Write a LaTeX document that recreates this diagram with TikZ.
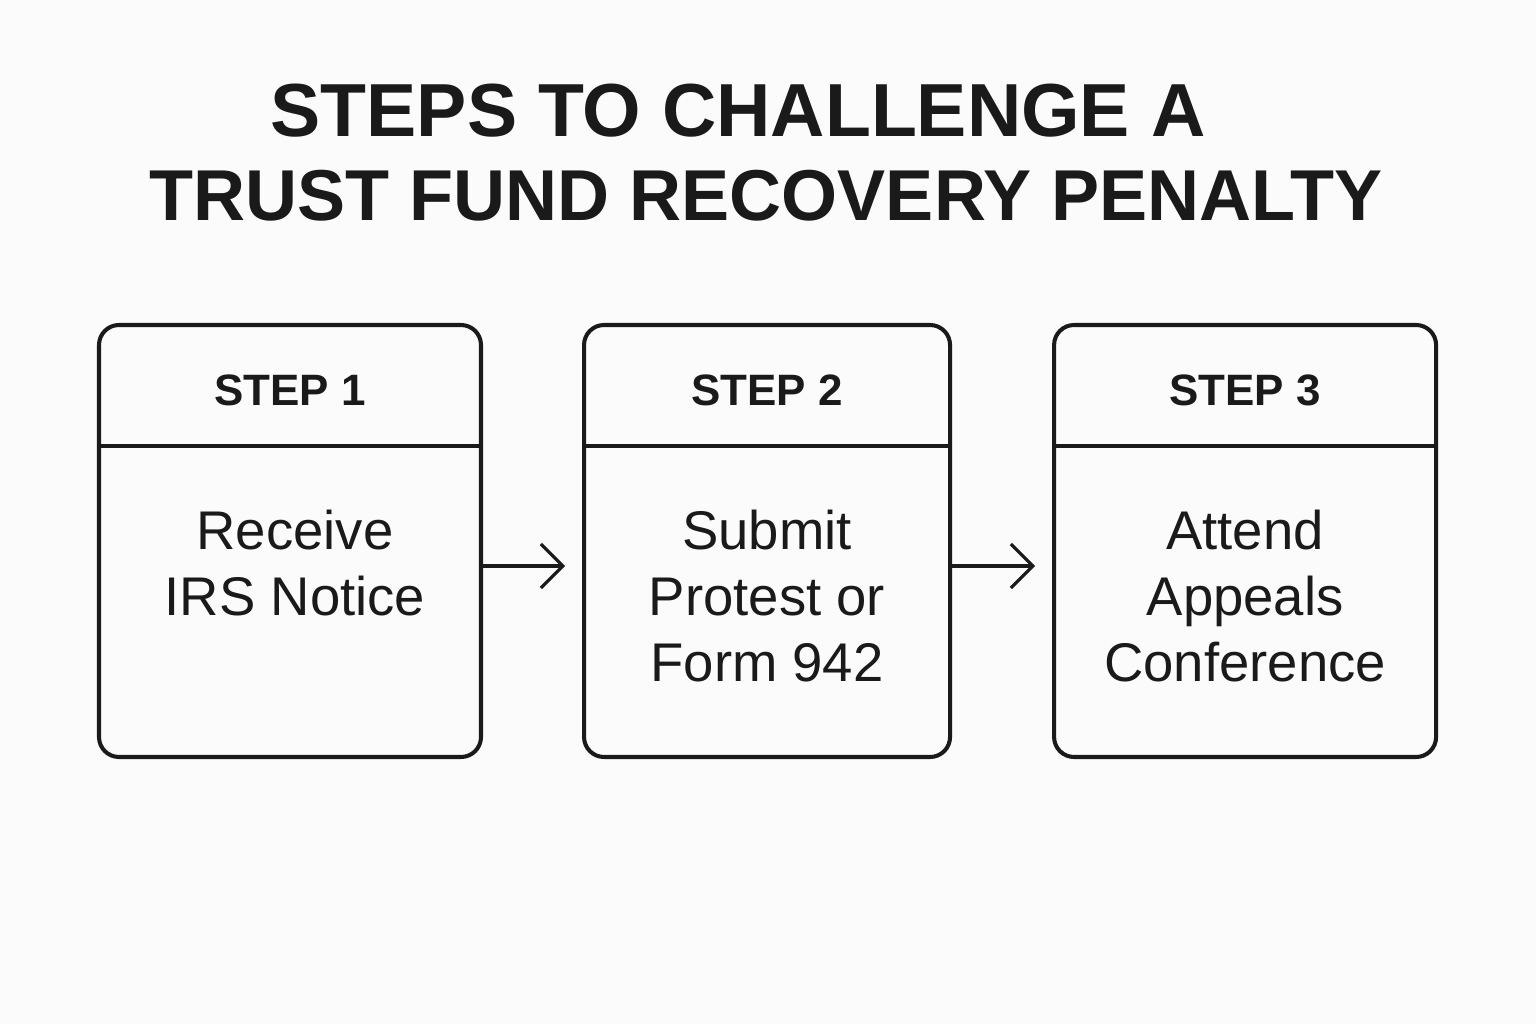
\documentclass[tikz,border=0pt]{standalone}
\usepackage{fontspec}
\setmainfont{Liberation Sans}
\usepackage{xcolor}
\definecolor{ink}{HTML}{1A1A1A}
\definecolor{paper}{HTML}{FBFBFB}
\usetikzlibrary{arrows.meta,positioning}

\begin{document}
\begin{tikzpicture}[
  node distance=9.9mm,
  card/.style={draw=ink,fill=paper,line width=1.15pt,rounded corners=2mm,minimum height=43.2mm,inner sep=0pt},
  heading/.style={font=\bfseries\fontsize{21.4}{24}\selectfont,text=ink,anchor=base,inner sep=0pt},
  tag/.style={font=\bfseries\fontsize{12.5}{15}\selectfont,text=ink,anchor=base,inner sep=0pt},
  body/.style={font=\fontsize{15.5}{18.8}\selectfont,text=ink,align=center,anchor=north,inner sep=0pt},
  rule/.style={draw=ink,line width=1.15pt},
  ar/.style={-{Straight Barb[length=2.2mm,width=4.4mm]},line width=0.9pt,draw=ink}
]
\fill[paper] (0,0) rectangle (15.36,10.24);
\useasboundingbox (0,0) rectangle (15.36,10.24);

% title
\node[heading] (t1) at (7.38,8.87) {STEPS TO CHALLENGE A};
\node[heading,font=\bfseries\fontsize{20.5}{24}\selectfont] (t2) at (7.66,8.04) {TRUST FUND RECOVERY PENALTY};

% cards
\node[card,minimum width=38.2mm] (b1) at (2.90,4.83) {};
\node[card,minimum width=36.6mm,right=of b1] (b2) {};
\node[card,minimum width=38.2mm,right=10.0mm of b2] (b3) {};

\draw[rule] ([yshift=-12.3mm]b1.north west) -- ([yshift=-12.3mm]b1.north east);
\draw[rule] ([yshift=-12.3mm]b2.north west) -- ([yshift=-12.3mm]b2.north east);
\draw[rule] ([yshift=-12.3mm]b3.north west) -- ([yshift=-12.3mm]b3.north east);

\node[tag] (s1) at ([yshift=-8.3mm]b1.north) {STEP 1};
\node[tag] (s2) at ([yshift=-8.3mm]b2.north) {STEP 2};
\node[tag] (s3) at ([yshift=-8.3mm]b3.north) {STEP 3};

\node[body] (x1) at ([xshift=0.5mm,yshift=-18.6mm]b1.north) {Receive\\IRS Notice};
\node[body] (x2) at ([yshift=-18.6mm]b2.north) {Submit\\Protest or\\Form 942};
\node[body] (x3) at ([yshift=-18.6mm]b3.north) {Attend\\Appeals\\Conference};

% arrows
\draw[ar] ([yshift=-2.5mm]b1.east) -- ([xshift=-1.7mm,yshift=-2.5mm]b2.west);
\draw[ar] ([yshift=-2.5mm]b2.east) -- ([xshift=-1.7mm,yshift=-2.5mm]b3.west);
\end{tikzpicture}
\end{document}
